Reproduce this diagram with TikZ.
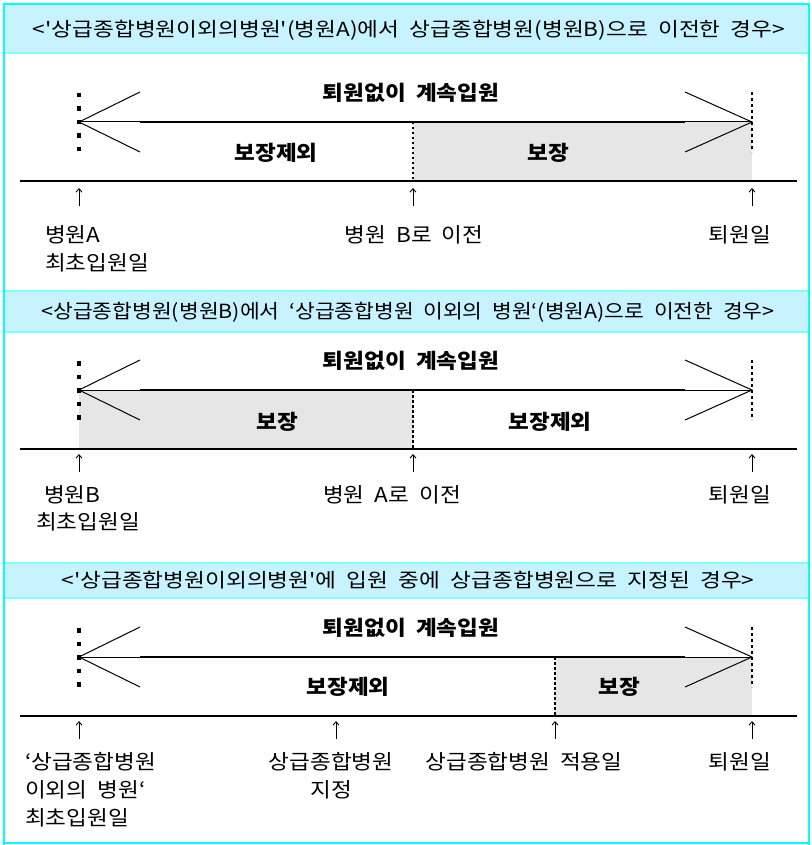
\documentclass[tikz,border=0pt]{standalone}
\usepackage{fontspec}
\setmainfont{Noto Sans CJK KR}[WordSpace=2, Ligatures=TeXOff, FakeStretch=1.1]
\usetikzlibrary{arrows.meta}
\definecolor{frameC}{RGB}{0,255,255}
\definecolor{headF}{RGB}{198,243,255}
\definecolor{headL}{RGB}{128,255,255}
\definecolor{covG}{RGB}{230,230,230}
\tikzset{
  titletxt/.style={inner sep=0pt, font=\fontsize{19.5}{19.5}\selectfont},
  lbl/.style={inner sep=0pt, font=\fontsize{20.5}{20.5}\selectfont},
  boldtxt/.style={inner sep=0pt, font=\fontsize{20.5}{20.5}\selectfont\bfseries},
  mainln/.style={line width=1.5pt},
  thinln/.style={line width=1pt},
  ttick/.style={line width=3.5pt, dash pattern=on 4.5pt off 9pt},
  dotln/.style={line width=2pt, dash pattern=on 3pt off 3pt},
  middot/.style={line width=2pt, dash pattern=on 2.5pt off 2.5pt},
  uparr/.style={-{Straight Barb[length=3.5pt,width=6pt]}, line width=0.9pt},
}
\newcommand\fitw[2]{\resizebox{#1}{\height}{#2}}
\newcommand\tline[2]{%
  \coordinate (#2L) at (79,#1);
  \coordinate (#2R) at (752,#1);
  \coordinate (#2Lu) at (140,#1-30);
  \coordinate (#2Ld) at (140,#1+30);
  \coordinate (#2Ru) at (685,#1-30);
  \coordinate (#2Rd) at (685,#1+30);
  \coordinate (#2Ms) at (140,#1);
  \coordinate (#2Me) at (685,#1);
  \coordinate (#2Tt) at (79,#1-29);
  \coordinate (#2Tb) at (79,#1+30.5);
  \coordinate (#2Dt) at (752,#1-30);
  \coordinate (#2Db) at (752,#1+30);
  \coordinate (#2B0) at (20,#1+59);
  \coordinate (#2B1) at (797,#1+59);
  \draw[ttick] (#2Tt) -- (#2Tb);
  \draw[dotln] (#2Dt) -- (#2Db);
  \draw[thinln] (#2Lu) -- (#2L) -- (#2Ld);
  \draw[thinln] (#2Ru) -- (#2R) -- (#2Rd);
  \draw[thinln] (#2L) -- (#2Ms);
  \draw[mainln] (#2Ms) -- (#2Me);
  \draw[thinln] (#2Me) -- (#2R);
  \draw[mainln] (#2B0) -- (#2B1);
  \node[boldtxt] (#2top) at (411,#1-29) {퇴원없이 계속입원};
}
\begin{document}
\begin{tikzpicture}[x=1pt,y=-1pt]
\useasboundingbox (0,0) rectangle (811,845);
% header bands
\fill[headF] (4,4) rectangle (809,53);
\draw[headL, line width=1.5pt] (4,53) -- (809,53);
\draw[frameC, line width=2pt] (4,4) -- (809,4);
\fill[headF] (4,291) rectangle (809,332);
\draw[headL, line width=1.5pt] (4,291) -- (809,291) (4,332) -- (809,332);
\fill[headF] (4,563) rectangle (809,598);
\draw[headL, line width=1.5pt] (4,563) -- (809,563) (4,598) -- (809,598);
% outer frame
\draw[frameC, line width=2pt] (4,3) -- (4,845) (809,3) -- (809,845) (4,843) -- (809,843);
% titles
\node[titletxt] (t1) at (409,30) {\fitw{752pt}{<'상급종합병원이외의병원'(병원A)에서 상급종합병원(병원B)으로 이전한 경우>}};
\node[titletxt] (t2) at (408,312) {\fitw{733pt}{<상급종합병원(병원B)에서 ‘상급종합병원 이외의 병원‘(병원A)으로 이전한 경우>}};
\node[titletxt] (t3) at (408,580) {\fitw{693pt}{<'상급종합병원이외의병원'에 입원 중에 상급종합병원으로 지정된 경우>}};

% ---------- panel 1 ----------
\fill[covG] (413,122) rectangle (752,181);
\tline{122}{a}
\coordinate (aM0) at (413,122); \coordinate (aM1) at (413,181);
\draw[middot] (aM0) -- (aM1);
\node[boldtxt] (aex) at (276,153) {보장제외};
\node[boldtxt] (acv) at (548,153) {보장};
\foreach \x/\n in {79/1,413/2,752/3}{
  \coordinate (aa\n) at (\x,206); \coordinate (ab\n) at (\x,188);
  \draw[uparr] (aa\n) -- (ab\n);
}
\node[lbl, anchor=west] (al1) at (45,235) {병원A};
\node[lbl, anchor=west] (al2) at (45,263) {최초입원일};
\node[lbl] (al3) at (414,235) {병원 B로 이전};
\node[lbl] (al4) at (740,235) {퇴원일};

% ---------- panel 2 ----------
\fill[covG] (79,390) rectangle (413,449);
\tline{390}{b}
\coordinate (bM0) at (413,390); \coordinate (bM1) at (413,449);
\draw[middot] (bM0) -- (bM1);
\node[boldtxt] (bcv) at (277,422) {보장};
\node[boldtxt] (bex) at (550,422) {보장제외};
\foreach \x/\n in {79/1,413/2,752/3}{
  \coordinate (ba\n) at (\x,472); \coordinate (bb\n) at (\x,454);
  \draw[uparr] (ba\n) -- (bb\n);
}
\node[lbl, anchor=west] (bl1) at (44,495) {병원B};
\node[lbl, anchor=west] (bl2) at (36,522) {최초입원일};
\node[lbl] (bl3) at (392,495) {병원 A로 이전};
\node[lbl] (bl4) at (740,495) {퇴원일};

% ---------- panel 3 ----------
\fill[covG] (555,657) rectangle (752,716);
\tline{657}{c}
\coordinate (cM0) at (555,657); \coordinate (cM1) at (555,716);
\draw[middot] (cM0) -- (cM1);
\node[boldtxt] (cex) at (348,687) {보장제외};
\node[boldtxt] (ccv) at (619,687) {보장};
\foreach \x/\n in {79/1,336/2,555/3,752/4}{
  \coordinate (ca\n) at (\x,739); \coordinate (cb\n) at (\x,721);
  \draw[uparr] (ca\n) -- (cb\n);
}
\node[lbl, anchor=west] (cl1) at (25,762) {‘상급종합병원};
\node[lbl, anchor=west] (cl2) at (25,790) {이외의 병원‘};
\node[lbl, anchor=west] (cl3) at (25,818) {최초입원일};
\node[lbl] (cl4) at (331,762) {상급종합병원};
\node[lbl] (cl5) at (331,790) {지정};
\node[lbl] (cl6) at (524,762) {상급종합병원 적용일};
\node[lbl] (cl7) at (740,762) {퇴원일};
\end{tikzpicture}
\end{document}
